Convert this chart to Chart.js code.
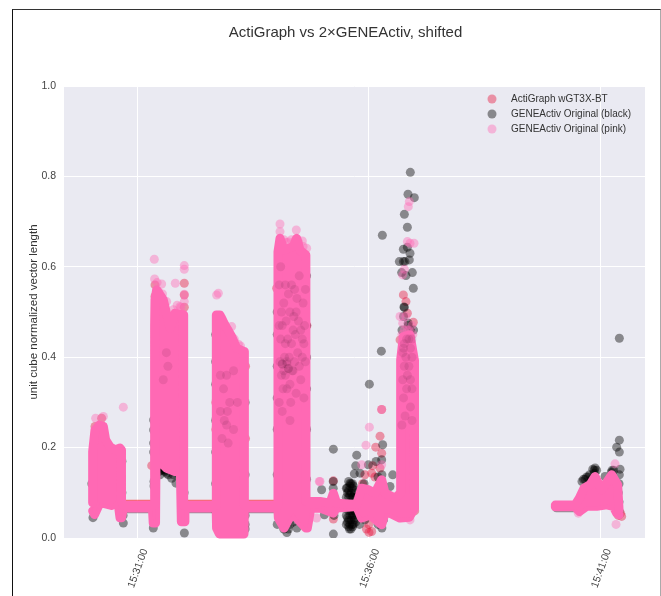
<!DOCTYPE html>
<html><head><meta charset="utf-8">
<style>
html,body{margin:0;padding:0;background:#fff;width:661px;height:596px;overflow:hidden}
#frame{position:absolute;left:12px;top:9px;width:649px;height:600px;border-left:1.5px solid #111;border-top:1.5px solid #333;border-right:1px solid #aaa;box-sizing:border-box}
canvas{position:absolute;left:0;top:0}
</style>
<script src="https://cdn.jsdelivr.net/npm/chart.js@4"></script>
</head><body><div id="frame"></div><canvas id="c" width="661" height="596"></canvas>
<script>
const titleText = 'ActiGraph vs 2×GENEActiv, shifted';
const yLabel = 'unit cube normalized vector length';
const seriesNames = ['ActiGraph wGT3X-BT','GENEActiv Original (black)','GENEActiv Original (pink)'];
const xTickSeconds = [1860,2160,2460];   // seconds after 15:00:00
const yTicks = [0,0.2,0.4,0.6,0.8,1.0];

// Dense trace of the overlaid samples: upper and lower envelope [seconds, value]
const mainUpper = [[1802.6,.078],[1802.6,.191],[1805.6,.239],[1811.2,.250],[1816.4,.247],[1819.4,.217],[1825,.202],[1831.5,.195],[1838,.199],[1839.7,.195],[1839.9,.081],[1842.3,.0723],[1882.6,.0723],[1882.8,.468],[1883.3,.527],[1885.4,.549],[1894,.527],[1902.7,.464],[1909.2,.497],[1917.8,.494],[1920,.494],[1920.4,.0723],[1962.5,.0723],[1962.7,.4935],[1967.4,.4935],[1973.9,.4714],[1982.5,.4456],[1989,.42],[1998.8,.4125],[1999,.0723],[2042.3,.0723],[2042.5,.633],[2045.1,.663],[2050.3,.637],[2062.4,.645],[2066.7,.663],[2071,.637],[2078.6,.626],[2078.8,.0809],[2096.9,.0809],[2109.8,.077],[2114.2,.099],[2118.5,.077],[2144.4,.074],[2150.8,.110],[2159.5,.107],[2168.1,.0993],[2176.7,.129],[2181,.0993],[2194,.0883],[2201.1,.0993],[2201.3,.394],[2204.8,.4457],[2213.4,.4494],[2219,.394],[2219.2,.0661]];
const mainLower = [[1802.6,.060],[1805,.052],[1812,.078],[1818,.076],[1827,.072],[1835,.085],[1838,.045],[1840,.045],[1842.3,.0665],[1880,.0665],[1881,.033],[1884,.033],[1884.6,.173],[1889.8,.169],[1898.4,.154],[1909.2,.147],[1916.1,.151],[1917.4,.036],[1921,.036],[1922,.0665],[1962.5,.0665],[1963,.022],[1966.6,.009],[1998.5,.009],[1999,.0665],[2042.3,.0665],[2043,.044],[2050.3,.022],[2055.9,.04],[2062.4,.055],[2068.8,.04],[2078.8,.022],[2080.5,.022],[2085,.066],[2096.9,.0661],[2114.2,.055],[2118.5,.0661],[2144.4,.0698],[2150.8,.044],[2161.6,.051],[2176.7,.0293],[2181,.055],[2187.5,.055],[2200.5,.044],[2212.5,.046],[2219.2,.0661]];
const lateUpper = [[2401.5,.0728],[2427,.0728],[2432.6,.0882],[2438.7,.1104],[2446.4,.1177],[2452.9,.136],[2461.5,.1067],[2474.5,.14],[2482.2,.1177],[2484,.0625]];
const lateLower = [[2401.5,.069],[2427,.069],[2432.6,.0588],[2442.1,.07],[2455,.07],[2468,.0735],[2476.6,.07],[2481,.055],[2484,.0514]];

// Individually visible samples [seconds, value]
const blackPoints = [[2213.8,.809],[2210.8,.7604],[2219,.753],[2206.1,.716],[2210,.6874],[2177.6,.6697],[2204.8,.6388],[2213.4,.630],[2210,.6432],[2199.6,.6115],[2204.8,.6115],[2206.9,.6115],[2212.5,.6152],[2202.6,.5872],[2208.2,.5806],[2216.4,.5872],[2217.7,.5525],[2205.6,.5113],[2176.3,.4133],[2160.8,.3403],[2114.2,.1966],[2178,.2062],[2144.4,.1833],[2169.4,.1693],[2176.7,.173],[2143.1,.1597],[2141.3,.142],[2148.7,.1435],[2159.5,.1619],[2135.7,.1214],[2191,.1398],[2187.5,.114],[2114.2,.0086],[2102.5,.0514],[2099,.1067],[2484.4,.442],[2484.4,.2165],[2480.9,.2010],[2484.4,.19],[2465.8,.1361],[2485.3,.1523],[2484.4,.1398],
[2211,.475],[2205,.49],[2214,.46],[2218,.46],[2203,.46],[2211,.47],[2206,.51],
[1888.5,.158],[1891.9,.158],[1889.8,.14],[1896.2,.147],[1900.5,.14],[1904.9,.132],[1910.5,.1213],[1913.5,.143],[1888.5,.147],[1894.1,.152],[1898.4,.143],[1907,.14],[1915.6,.147],[1889,.155],[1892,.150],[1897,.150],[1890,.160],
[1842.3,.033],[1881.1,.022],[1921.3,.011],[1882,.125],[1882,.115],[1882,.045],[1920,.13],[1921,.10],[1920,.06],[1842,.05],[1881.5,.239],[1881.5,.261],[1881.5,.21],[1881.5,.19],
[2131,.03],[2131,.05],[2131,.09],[2131,.11],[2134,.025],[2134,.04],[2134,.06],[2134,.09],[2134,.105],[2134,.125],[2137,.02],[2137,.04],[2137,.06],[2137,.10],[2137,.12],[2140,.03],[2140,.05],[2140,.09],[2140,.115],[2143,.035],[2143,.055],[2143,.09],[2143,.105],[2132,.07],[2136,.075],[2141,.07],
[2132.5,.035],[2132.5,.045],[2132.5,.1],[2135.5,.03],[2135.5,.05],[2135.5,.095],[2135.5,.115],[2138.5,.03],[2138.5,.05],[2138.5,.09],[2138.5,.11],[2141.5,.04],[2141.5,.06],[2141.5,.1],[2141.5,.045],[2139,.025],[2135,.02],[2132,.11],[2139,.12],
[2050,.02],[2054,.012],[2058,.03],[2062,.035],[2067,.022],[2075,.03],[2048,.03],[2052,.03],[2056,.02],[2070,.045],
[2436,.125],[2440,.13],[2444,.135],[2448,.13],[2452,.15],[2455,.15],[2452,.143],[2474,.145],[2477,.15],[2483,.10],[2484,.08],[2484,.06],[2484,.12],[2438,.13],[2442,.135],[2446,.14],[2450,.152],[2453,.155],[2475,.15],
[2148,.03],[2155,.04],[2172,.03],[2177,.022],[2179,.04],[2177,.14],[2172,.135],[2154,.12],[2115,.05],[2114,.125],[2114,.11],
[1961.8,.06],[1961.8,.12],[1961.8,.19],[1961.8,.26],[1961.8,.34],[1961.8,.39],[1961.8,.45],[2000,.05],[2000,.14],[2000,.03],[2000,.30],[2000,.02],[2041.5,.03],[2041.5,.14],[2041.5,.24],[2041.5,.31],[2041.5,.38],[2041.5,.45],[2041.5,.5],[2079.5,.33],[2079.5,.40],[2079.5,.47],[2079.5,.58],[2079.5,.13],[2079.5,.24],[1840.5,.10],[1840.5,.17],[1801.5,.12],[1803,.045]];
const redPoints = [[2204.8,.5378],[2208.2,.5231],[2176.7,.2843],[2174.6,.2253],[2169,.2010],[2176.7,.1877],[2163.8,.1435],[2160.3,.0123],[2163.8,.0145],[2114.2,.1265],[2114.2,.0418],[2174.6,.1546],[2217.7,.4774],[2200.5,.4383],[2210,.4973],[2487.4,.0477],[2483,.05],[2486,.055],[1921.2,.5635],[1921.2,.5377],[1921.2,.5105],[1883.3,.56],[1883.3,.535],[2040.8,.5525],[1805.6,.2466],[1814.2,.265],[2160,.03],[2157,.02],[2155,.14],[2165,.16],[2168,.135],[2152,.12],[2219.5,.06],[1962,.30],[1962,.24],[2000.5,.38],[2000.5,.22],[2080,.47],[1879,.16]];
const pinkPoints = [[1882.4,.6166],[1921.2,.6026],[1921.2,.5945],[1882.8,.573],[1891.9,.562],[1909.6,.5635],[1921.2,.5392],[1921.2,.523],[1963.1,.5377],[1965.3,.5414],[1842.3,.2894],[1806.5,.265],[1816.4,.2687],[2045.1,.6947],[2045.1,.6778],[2066.2,.6815],[2074,.657],[2079.6,.641],[2053.7,.6535],[2064.5,.658],[2096,.125],[2092.5,.044],[1898.4,.523],[1915.6,.512],[1982.5,.4677],[1991.2,.4287],
[2212.5,.7442],[2211.2,.733],[2210,.6557],[2213.4,.652],[2218.6,.652],[2206.1,.5946],[2203.9,.582],[2160.8,.2452],[2176.7,.2843],[2156.4,.2054],[2150.8,.162],[2176.7,.162],[2096.9,.125],[2478.8,.1641],[2480.1,.0300],[2431.3,.055],[2200.5,.49],[2213.4,.04],
[2206,.46],[2212,.46],[2204,.475],[2216,.47],[2208,.49],[2210,.46],[2203,.45],[2217,.45],[2050,.66],[2056,.655],[2069,.655],[2046,.65],[2075,.645],[2060,.66],
[1886,.565],[1888,.545],[1893,.54],[1903,.48],[1907,.505],[1912,.515],[1917,.51],[1970,.485],[1978,.46],[1986,.44],[1994,.425]];
// Black samples that show through the pink layer
const showThrough = [[2044,.56],[2046,.60],[2050,.52],[2048,.47],[2046,.44],[2045,.39],[2048,.385],[2051,.40],[2054,.39],[2056,.375],[2057,.40],[2060,.43],[2062,.46],[2063,.49],[2066,.50],[2069,.48],[2074,.44],[2076,.43],[2078,.39],[2077,.47],[2075,.52],[2060,.56],[2056,.54],[2053,.48],[2064,.55],[2070,.58],[2049,.33],[2054,.33],[2059,.30],[2062,.37],[2066,.32],[2072,.35],[2076,.31],[2048,.28],[2058,.26],[2044,.30],[2052,.43],[2068,.41],[2056,.375],[2054,.385],[2061,.37],[2048,.385],[2050,.37],
[2047,.50],[2052,.56],[2058,.50],[2067,.53],[2072,.46],[2074,.40],[2044,.47],[2078,.55],[2055,.44],[2065,.45],[2047,.36],[2052,.36],[2070,.38],[2058,.34],[2064,.39],
[2205,.42],[2209,.44],[2214,.42],[2216,.40],[2206,.38],[2212,.38],[2204,.35],[2209,.33],[2216,.33],[2205,.31],[2214,.29],[2207,.27],[2216,.26],[2203,.25],[2204,.41],[2216,.44],[2210,.36],[2208,.40],[2212,.44],[2206,.43],[2214,.35],
[1968,.36],[1972,.33],[1976,.36],[1980,.30],[1973,.26],[1976,.25],[1970,.22],[1985,.24],[1978,.21],[1990,.30],[1968,.28],[1977,.28],[1985,.37],
[1894,.35],[1900,.38],[1898,.41]];
const redBand = [[1842,.0745],[1882,.0745],[null,null],[1922,.0745],[1962,.0745],[null,null],[2000,.0745],[2042,.0745]];
const blackBand = [[1842,.0645],[1882,.0645],[null,null],[1922,.0645],[1962,.0645],[null,null],[2000,.0645],[2042,.0645],[null,null],[2403,.067],[2427,.067]];

const toXY = a => a.map(p => ({x:p[0], y:p[1]}));
const RED='rgba(230,20,60,.42)', BLK='rgba(0,0,0,.42)', PNK='rgba(255,105,180,.42)', SOLID='#FF69B4', R=4.5;

function marker(col){
  const c=document.createElement('canvas'); c.width=12;c.height=12;
  const g=c.getContext('2d'); g.fillStyle=col; g.beginPath(); g.arc(6,6,R,0,Math.PI*2); g.fill(); return c;
}
const scatterSet=(label,pts,col,order)=>({type:'scatter',label,data:toXY(pts),backgroundColor:col,borderWidth:0,pointRadius:R,pointHoverRadius:R,order,clip:0});
const edgeSet=(label,pts,col,order,fill)=>({type:'scatter',label,data:toXY(pts),showLine:true,spanGaps:false,borderColor:col,backgroundColor:col,borderWidth:9,borderJoinStyle:'round',borderCapStyle:'round',pointRadius:0,fill:fill===undefined?false:fill,order,clip:1,tension:0});

const datasets=[
  scatterSet(seriesNames[0],redPoints,RED,60),
  scatterSet(seriesNames[1],blackPoints,BLK,50),
  scatterSet(seriesNames[2],pinkPoints,PNK,20),
  edgeSet('redBand',redBand,'rgba(255,0,0,.55)',45),
  edgeSet('blackBand',blackBand,'rgba(0,0,0,.4)',44),
  edgeSet('mainUpper',mainUpper,SOLID,11,'+1'),
  edgeSet('mainLower',mainLower,SOLID,12),
  edgeSet('lateUpper',lateUpper,SOLID,9,'+1'),
  edgeSet('lateLower',lateLower,SOLID,10),
  scatterSet('showThrough',showThrough,'rgba(40,0,20,.09)',5)
];

const placement={id:'placement',afterLayout(chart){
  const l=chart.legend,dx=473-l.left;l.left+=dx;l.right+=dx;l.top=89;l.bottom=151;
  const t=chart.titleBlock;t.left+=23;t.right+=23;}};
const bgPlugin={id:'plotBg',beforeDraw(chart){const a=chart.chartArea,g=chart.ctx;g.save();g.fillStyle='#EAEAF2';g.fillRect(a.left,a.top,a.right-a.left,a.bottom-a.top);g.restore();}};

new Chart(document.getElementById('c'),{
  data:{datasets},
  plugins:[bgPlugin,placement],
  options:{
    responsive:false,animation:false,devicePixelRatio:1,
    layout:{padding:{left:0,right:16,top:0,bottom:0}},
    font:{family:'"Liberation Sans"'},
    scales:{
      x:{type:'linear',min:1765.5,max:2517.6,
        afterBuildTicks(ax){ax.ticks=xTickSeconds.map(v=>({value:v}));},
        afterFit(ax){ax.height=58;},
        border:{display:false},
        grid:{color:'#fff',lineWidth:1,drawTicks:false},
        ticks:{autoSkip:false,maxRotation:70,minRotation:70,padding:9,labelOffset:8,color:'#444',font:{family:'"Liberation Sans"',size:10.5},
          callback(v){const m=Math.floor(v/60),s=v%60;return '15:'+m+':'+String(s).padStart(2,'0');}}},
      y:{type:'linear',min:0,max:1,
        afterBuildTicks(ax){ax.ticks=yTicks.map(v=>({value:v}));},
        afterFit(ax){ax.width=64;},
        border:{display:false},
        grid:{color:'#fff',lineWidth:1,drawTicks:false},
        title:{display:true,text:yLabel,color:'#333',font:{family:'"Liberation Sans"',size:11.5},padding:{top:27,bottom:0}},
        ticks:{padding:8,color:'#444',font:{family:'"Liberation Sans"',size:10.5},callback:v=>v.toFixed(1)}}
    },
    plugins:{
      tooltip:{enabled:false},
      title:{display:true,text:titleText,color:'#333',font:{family:'"Liberation Sans"',size:15,weight:'normal'},padding:{top:24,bottom:44}},
      legend:{position:'chartArea',align:'start',
        labels:{usePointStyle:true,pointStyleWidth:28,boxHeight:10,padding:5,color:'#333',font:{family:'"Liberation Sans"',size:10},
          generateLabels(){return [RED,BLK,PNK].map((c,i)=>({text:seriesNames[i],pointStyle:marker(c),fontColor:'#333',lineWidth:0,strokeStyle:'transparent',fillStyle:c,hidden:false,datasetIndex:i}));}}}
    }
  }
});
</script></body></html>
